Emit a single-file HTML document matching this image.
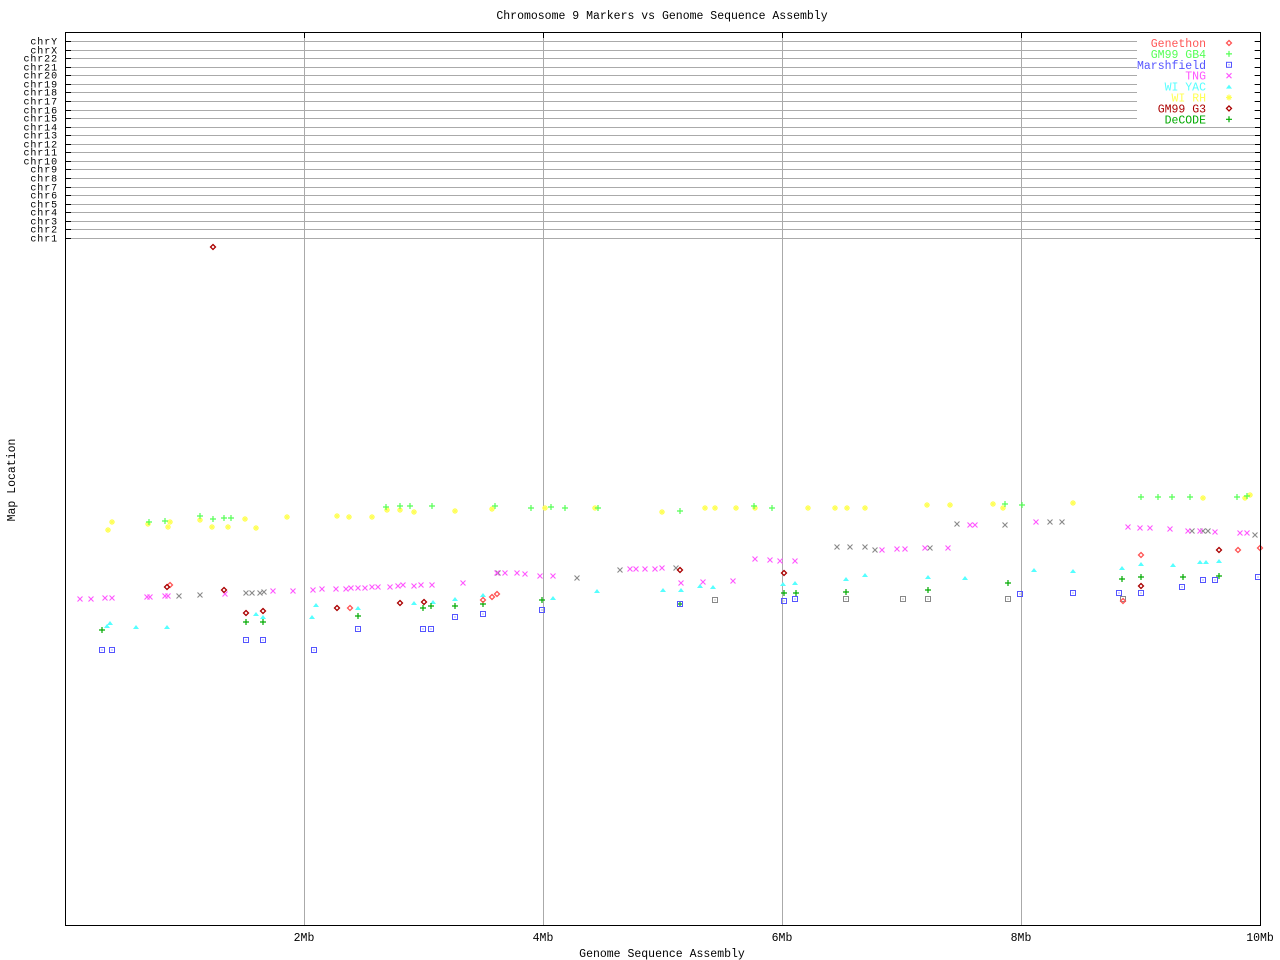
<!DOCTYPE html>
<html><head><meta charset="utf-8"><style>
html,body{margin:0;padding:0;background:#fff;}
svg{display:block;font-family:"Liberation Mono",monospace;font-size:11.5px;}
.c{font-size:10px;letter-spacing:0.9px;}
</style></head><body>
<svg id="s" width="1280" height="960" xmlns="http://www.w3.org/2000/svg">
<rect width="1280" height="960" fill="#fff"/>
<text x="662" y="19" text-anchor="middle">Chromosome 9 Markers vs Genome Sequence Assembly</text>
<text x="662" y="957" text-anchor="middle">Genome Sequence Assembly</text>
<text transform="translate(15,480) rotate(-90)" text-anchor="middle">Map Location</text>
<g id="g"></g>
<rect x="65.5" y="32.5" width="1195" height="893" fill="none" stroke="#000" stroke-width="1"/>
</svg>
<script>
var g=document.getElementById('g'),h='';
var chrs=['chrY','chrX','chr22','chr21','chr20','chr19','chr18','chr17','chr16','chr15','chr14','chr13','chr12','chr11','chr10','chr9','chr8','chr7','chr6','chr5','chr4','chr3','chr2','chr1'];
for(var i=0;i<24;i++){var y=Math.round(41+i*(238-41)/23)+0.5;
h+='<line x1="66" y1="'+y+'" x2="1260" y2="'+y+'" stroke="#aaa"/>';
h+='<line x1="66" y1="'+y+'" x2="71" y2="'+y+'" stroke="#000"/><line x1="1255" y1="'+y+'" x2="1260" y2="'+y+'" stroke="#000"/>';
h+='<text class="c" x="58" y="'+(y+3)+'" text-anchor="end">'+chrs[i]+'</text>';}
var xs=[304,543,782,1021,1260],lb=['2Mb','4Mb','6Mb','8Mb','10Mb'];
for(var i=0;i<5;i++){var x=xs[i]+0.5;
h+='<line x1="'+x+'" y1="33" x2="'+x+'" y2="925" stroke="#aaa"/>';
h+='<line x1="'+x+'" y1="33" x2="'+x+'" y2="38" stroke="#000"/>';
h+='<text x="'+xs[i]+'" y="941" text-anchor="middle">'+lb[i]+'</text>';}
function mk(t,c,x,y){
 if(t=='d')return '<path d="M'+x+' '+(y-2.5)+'L'+(x+2.5)+' '+y+'L'+x+' '+(y+2.5)+'L'+(x-2.5)+' '+y+'Z" fill="none" stroke="'+c+'" stroke-width="1.3"/>';
 if(t=='p')return '<path d="M'+(x-3)+' '+y+'H'+(x+3)+'M'+x+' '+(y-3)+'V'+(y+3)+'" stroke="'+c+'" stroke-width="1.2"/>';
 if(t=='s')return '<rect x="'+(x-2.5)+'" y="'+(y-2.5)+'" width="5" height="5" fill="none" stroke="'+c+'"/><rect x="'+(x-.5)+'" y="'+(y-.5)+'" width="1" height="1" fill="'+c+'"/>';
 if(t=='x')return '<path d="M'+(x-2.5)+' '+(y-2.5)+'L'+(x+2.5)+' '+(y+2.5)+'M'+(x+2.5)+' '+(y-2.5)+'L'+(x-2.5)+' '+(y+2.5)+'" stroke="'+c+'" stroke-width="1.1"/>';
 if(t=='t')return '<path d="M'+x+' '+(y-2)+'L'+(x+3)+' '+(y+2)+'H'+(x-3)+'Z" fill="'+c+'"/>';
 if(t=='a')return '<path d="M'+(x-3)+' '+y+'H'+(x+3)+'M'+x+' '+(y-3)+'V'+(y+3)+'M'+(x-2)+' '+(y-2)+'L'+(x+2)+' '+(y+2)+'M'+(x+2)+' '+(y-2)+'L'+(x-2)+' '+(y+2)+'" stroke="'+c+'" stroke-width="1.2"/>';
}
function S(t,c,a){for(var i=0;i<a.length;i+=2)h+=mk(t,c,a[i],a[i+1]);}
S('a','#ff5',[108,530,112,522,148,524,168,527,170,522,200,520,212,527,228,527,245,519,256,528,287,517,337,516,349,517,372,517,387,510,400,510,414,512,455,511,492,509,545,508,595,508,662,512,705,508,715,508,736,508,755,508,808,508,835,508,847,508,865,508,927,505,950,505,993,504,1003,508,1073,503,1203,498,1245,498,1250,495]);
S('p','#5f5',[149,522,165,521,200,516,213,519,224,518,231,518,386,507,400,506,410,506,432,506,495,506,531,508,551,507,565,508,598,508,680,511,754,506,772,508,1005,504,1022,505,1141,497,1158,497,1172,497,1190,497,1237,497,1247,496]);
S('x','#888',[179,596,200,595,246,593,252,593,260,593,264,592,498,573,577,578,620,570,676,568,837,547,850,547,865,547,875,550,930,548,957,524,1005,525,1050,522,1062,522,1192,531,1203,531,1208,531,1255,535]);
S('x','#f5f',[80,599,91,599,105,598,112,598,147,597,150,597,165,596,168,596,225,594,273,591,293,591,313,590,322,589,336,589,346,589,351,588,358,588,365,588,372,587,378,587,390,587,398,586,403,585,414,586,421,585,432,585,463,583,497,573,505,573,517,573,525,574,540,576,553,576,630,569,636,569,645,569,655,569,662,568,681,583,703,582,733,581,755,559,770,560,780,561,795,561,882,550,897,549,905,549,925,548,948,548,970,525,975,525,1036,522,1128,527,1140,528,1150,528,1170,529,1188,531,1200,531,1215,532,1240,533,1247,533]);
S('t','#5ff',[107,626,110,623,136,627,167,627,256,614,263,617,316,605,312,617,358,608,414,603,433,602,455,599,483,595,553,598,597,591,663,590,681,590,700,586,713,587,783,584,795,583,846,579,865,575,928,577,965,578,1034,570,1073,571,1122,568,1141,564,1173,565,1200,562,1206,562,1219,561]);
S('p','#0a0',[102,630,246,622,263,622,358,616,423,608,431,606,455,606,483,604,542,600,680,604,784,593,796,593,846,592,928,590,1008,583,1122,579,1141,577,1183,577,1219,576]);
S('s','#55f',[102,650,112,650,246,640,263,640,314,650,358,629,423,629,431,629,455,617,483,614,542,610,680,604,784,601,795,599,1020,594,1073,593,1119,593,1141,593,1182,587,1203,580,1215,580,1258,577]);
S('s','#888',[715,600,846,599,903,599,928,599,1008,599,1123,599]);
S('d','#f55',[170,585,483,600,492,597,497,594,1141,555,1238,550,1260,548,1123,601,350,608]);
S('d','#a00',[213,247,167,587,224,590,246,613,263,611,337,608,400,603,424,602,680,570,784,573,1141,586,1219,550]);
var L=[['Genethon','#f55','d'],['GM99 GB4','#5f5','p'],['Marshfield','#55f','s'],['TNG','#f5f','x'],['WI YAC','#5ff','t'],['WI RH','#ff5','a'],['GM99 G3','#a00','d'],['DeCODE','#0a0','p']];
h+='<rect x="1137" y="36" width="117" height="90" fill="#fff"/>';
for(var i=0;i<8;i++){var y=43+i*10.9;h+='<text x="1206" y="'+(y+4)+'" text-anchor="end" fill="'+L[i][1]+'">'+L[i][0]+'</text>';h+=mk(L[i][2],L[i][1],1229,y);}
g.innerHTML=h;
</script>
</body></html>
